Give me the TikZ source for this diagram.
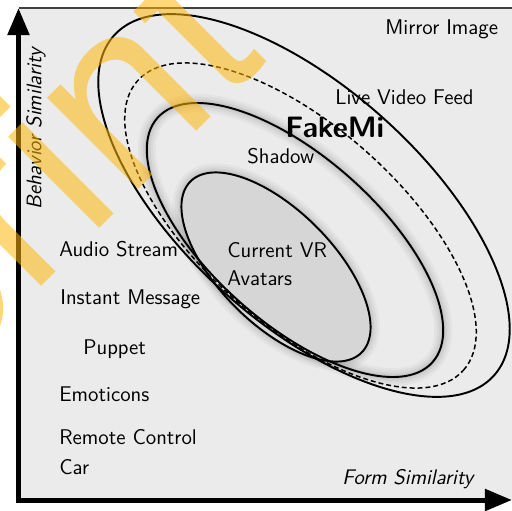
\documentclass[tikz,border=0pt]{standalone}
\usepackage{fontspec}
\newfontfamily\wmfont{TeX Gyre Heros}
\usetikzlibrary{arrows.meta}
\definecolor{bgcol}{RGB}{235,235,235}
\definecolor{avfill}{RGB}{214,214,214}
\definecolor{wmcol}{RGB}{255,183,10}
\tikzset{
  lbl/.style={font=\sffamily\fontsize{12.1}{15.5}\selectfont, inner sep=0pt, anchor=base west},
  axislbl/.style={font=\sffamily\itshape\fontsize{12.0}{14}\selectfont, inner sep=0pt, anchor=base west},
  axisline/.style={line width=2.85pt, {Triangle[length=15.4pt,width=12pt]}-{Triangle[length=15.4pt,width=12pt]}},
  ring/.style={line width=1.1pt},
  dashring/.style={line width=0.85pt, dash pattern=on 2.8pt off 1.7pt},
  watermark/.style={font=\wmfont\fontsize{140}{140}\selectfont, text=wmcol, text opacity=0.55, inner sep=0pt, anchor=base west, rotate=45}
}
\begin{document}
\begin{tikzpicture}[x=0.02cm,y=-0.02cm]
\useasboundingbox (0,0) rectangle (511,511);
% background panel
\fill[bgcol] (18.5,8) rectangle (540,500);
\draw[black!75, line width=0.6pt] (18.5,8) -- (540,8);
% glows
\foreach \w/\o in {0.36cm/0.03,0.26cm/0.035,0.16cm/0.045,0.08cm/0.05}{
  \begin{scope}[shift={(295,240)}, rotate=-41.6]
    \draw[black, line width=\w, opacity=\o] (0,0) ellipse [x radius=3.68cm, y radius=1.66cm];
  \end{scope}
  \begin{scope}[shift={(276,267)}, rotate=-45]
    \draw[black, line width=\w, opacity=\o] (0,0) ellipse [x radius=2.42cm, y radius=1.14cm];
  \end{scope}
}
% inner filled ellipse
\begin{scope}[shift={(276,267)}, rotate=-45]
  \fill[avfill] (0,0) ellipse [x radius=2.42cm, y radius=1.14cm];
  \draw[ring] (0,0) ellipse [x radius=2.42cm, y radius=1.14cm];
\end{scope}
% shadow ellipse
\begin{scope}[shift={(295,240)}, rotate=-41.6]
  \draw[ring] (0,0) ellipse [x radius=3.68cm, y radius=1.66cm];
\end{scope}
% dashed ellipse
\begin{scope}[shift={(300.5,225.5)}, rotate=-41.6]
  \draw[dashring] (0,0) ellipse [x radius=4.36cm, y radius=1.98cm];
\end{scope}
% outer ellipse
\begin{scope}[shift={(304,205.5)}, rotate=-41.8]
  \draw[ring] (0,0) ellipse [x radius=5.10cm, y radius=2.36cm];
\end{scope}
% axes
\coordinate (ytip) at (18.5,8);
\coordinate (origin) at (18.5,500);
\coordinate (xtip) at (512,500);
\draw[axisline] (ytip) -- (origin) -- (xtip);
% labels
\node[lbl] (mirror) at (385,34.3) {Mirror Image};
\node[lbl] (live) at (335,104.5) {Live Video Feed};
\node[lbl, font=\sffamily\bfseries\fontsize{16.8}{19}\selectfont] (fakemi) at (285,137) {FakeMi};
\node[lbl] (shadowlbl) at (247,163) {Shadow};
\node[lbl] (curvr) at (227,257.5) {Current VR};
\node[lbl] (avatars) at (227,285) {Avatars};
\node[lbl] (audio) at (59,256.5) {Audio Stream};
\node[lbl] (instant) at (60,304.5) {Instant Message};
\node[lbl] (puppet) at (83,354.5) {Puppet};
\node[lbl] (emot) at (59,401.5) {Emoticons};
\node[lbl] (remote) at (59,444.5) {Remote Control};
\node[lbl] (car) at (59,474.5) {Car};
\node[axislbl] (formlbl) at (342,484.5) {Form Similarity};
\node[axislbl, rotate=90] (behavlbl) at (41.3,210) {Behavior Similarity};
% watermark
\node[watermark] (wm) at (-336.3,664.3) {Preprint};
\end{tikzpicture}
\end{document}
